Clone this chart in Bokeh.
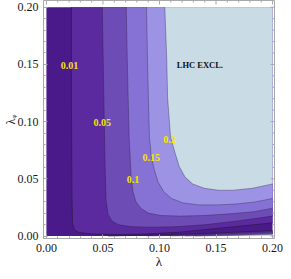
from bokeh.plotting import figure
from bokeh.models import Range1d, FixedTicker
from bokeh.embed import file_html
from bokeh.resources import INLINE
from bokeh.core.properties import value

# ---------------- data ----------------
lam_extent = [0.0, 0.2]        # lambda range of the scan
lamphi_extent = [0.0, 0.2]     # lambda_phi range of the scan

levels = [0.01, 0.05, 0.1, 0.15, 0.2]
level_labels = ["0.01", "0.05", "0.1", "0.15", "0.2"]

# upper branch of each contour (from top edge down and across to right edge)
c001_x = [0.0221, 0.0221, 0.0226, 0.0230, 0.0247, 0.0289, 0.0417, 0.0630, 0.0885, 0.1183, 0.1566, 0.2]
c001_y = [0.2, 0.1204, 0.0353, 0.0115, 0.0055, 0.0030, 0.0017, 0.0013, 0.0017, 0.0034, 0.0072, 0.0115]
c005_x = [0.0494, 0.0502, 0.0511, 0.0519, 0.0528, 0.0545, 0.0579, 0.0638, 0.0757, 0.0928, 0.1140, 0.1396, 0.1694, 0.2]
c005_y = [0.2, 0.1545, 0.1034, 0.0609, 0.0311, 0.0191, 0.0132, 0.0098, 0.0081, 0.0077, 0.0081, 0.0098, 0.0132, 0.0174]
c010_x = [0.0706, 0.0715, 0.0723, 0.0732, 0.0749, 0.0766, 0.0791, 0.0834, 0.0902, 0.1013, 0.1183, 0.1396, 0.1651, 0.1838, 0.2]
c010_y = [0.2, 0.1545, 0.1204, 0.0864, 0.0523, 0.0387, 0.0302, 0.0243, 0.0200, 0.0179, 0.0174, 0.0179, 0.0196, 0.0213, 0.0243]
c015_x = [0.0885, 0.0894, 0.0902, 0.0911, 0.0928, 0.0953, 0.0987, 0.1038, 0.1106, 0.1209, 0.1353, 0.1523, 0.1694, 0.1847, 0.2]
c015_y = [0.2, 0.1545, 0.1204, 0.0864, 0.0694, 0.0583, 0.0472, 0.0387, 0.0328, 0.0289, 0.0272, 0.0272, 0.0281, 0.0298, 0.0328]
c020_x = [0.1047, 0.1064, 0.1072, 0.1098, 0.1140, 0.1174, 0.1226, 0.1294, 0.1396, 0.1523, 0.1651, 0.1821, 0.2]
c020_y = [0.2, 0.1545, 0.1204, 0.0864, 0.0719, 0.0609, 0.0515, 0.0455, 0.0417, 0.0400, 0.0400, 0.0417, 0.0455]

# lower branch (values rise again as lambda_phi -> 0 at large lambda)
r001_x = [0.0545, 0.0970, 0.1481, 0.2]
r001_y = [0.0, 0.00085, 0.00255, 0.00468]
r005_x = [0.0885, 0.1396, 0.2]
r005_y = [0.0, 0.00128, 0.0034]
r010_x = [0.1098, 0.1566, 0.2]
r010_y = [0.0, 0.00102, 0.00255]
r015_x = [0.1226, 0.1651, 0.2]
r015_y = [0.0, 0.00085, 0.00196]
r020_x = [0.1311, 0.1694, 0.2]
r020_y = [0.0, 0.0006, 0.00145]

upper_x = [c001_x, c005_x, c010_x, c015_x, c020_x]
upper_y = [c001_y, c005_y, c010_y, c015_y, c020_y]
lower_x = [r001_x, r005_x, r010_x, r015_x, r020_x]
lower_y = [r001_y, r005_y, r010_y, r015_y, r020_y]

# contour label positions
label_x = [0.0204, 0.0494, 0.0766, 0.0928, 0.1089]
label_y = [0.1494, 0.0991, 0.0498, 0.0688, 0.0847]

excl_text = "LHC EXCL."
excl_x = [0.1357]
excl_y = [0.1494]

ticks = [0.0, 0.05, 0.1, 0.15, 0.2]
tick_labels = ["0.00", "0.05", "0.10", "0.15", "0.20"]
minor_ticks = [0.01, 0.02, 0.03, 0.04, 0.06, 0.07, 0.08, 0.09, 0.11, 0.12,
               0.13, 0.14, 0.16, 0.17, 0.18, 0.19]

x_title = "λ"
y_title = "λᵩ"

# ---------------- styles ----------------
region_colors = ["#4a1a8b", "#5b2a9f", "#6d4cb6", "#8672d4", "#9d93e4", "#c9dbe4"]
line_alphas = [0.85, 0.5, 0.45, 0.45, 0.45]
frame_color = "#a8a8a8"
serif = "Liberation Serif"
x0, x1 = -0.002586, 0.201724
y0, y1 = -0.002185, 0.205857
major_len_x, major_len_y = 0.00345, 0.0035
minor_len_x, minor_len_y = 0.0017, 0.00175

p = figure(width=283, height=271,
           x_range=Range1d(x0, x1), y_range=Range1d(y0, y1),
           output_backend="svg", toolbar_location=None,
           min_border_left=37, min_border_right=9, min_border_top=0, min_border_bottom=33)
p.background_fill_color = "white"
p.border_fill_color = "white"
p.outline_line_color = frame_color
p.xgrid.visible = False
p.ygrid.visible = False

# base region (below the lowest level)
p.quad(left=[lam_extent[0]], right=[lam_extent[1]], bottom=[lamphi_extent[0]], top=[lamphi_extent[1]],
       fill_color=region_colors[0], line_color=None)
for i in range(len(levels)):
    p.patch(upper_x[i] + [lam_extent[1]], upper_y[i] + [lamphi_extent[1]],
            fill_color=region_colors[i + 1], line_color=None)
for i in range(len(levels)):
    p.patch(lower_x[i] + [lam_extent[1]], lower_y[i] + [lamphi_extent[0]],
            fill_color=region_colors[i + 1], line_color=None)
for i in range(len(levels)):
    p.line(upper_x[i], upper_y[i], line_color="#2a1a40", line_alpha=line_alphas[i], line_width=0.8)
    p.line(lower_x[i], lower_y[i], line_color="#2a1a40", line_alpha=line_alphas[i], line_width=0.8)

p.text(x=label_x, y=label_y, text=level_labels, text_color="#f4e600",
       text_font=value(serif), text_font_style="bold", text_font_size="10px",
       text_align="center", text_baseline="middle")
p.text(x=excl_x, y=excl_y, text=[excl_text], text_color="#111111",
       text_font=value(serif), text_font_style="bold", text_font_size="8.5px",
       text_align="center", text_baseline="middle")

# mirrored inward ticks on the top and right frame edges
p.segment(x0=ticks, y0=[y1] * len(ticks), x1=ticks, y1=[y1 - major_len_y] * len(ticks),
          line_color=frame_color, line_width=1)
p.segment(x0=minor_ticks, y0=[y1] * len(minor_ticks), x1=minor_ticks,
          y1=[y1 - minor_len_y] * len(minor_ticks), line_color=frame_color, line_width=1)
p.segment(x0=[x1] * len(ticks), y0=ticks, x1=[x1 - major_len_x] * len(ticks), y1=ticks,
          line_color=frame_color, line_width=1)
p.segment(x0=[x1] * len(minor_ticks), y0=minor_ticks, x1=[x1 - minor_len_x] * len(minor_ticks),
          y1=minor_ticks, line_color=frame_color, line_width=1)

ticker = FixedTicker(ticks=ticks, minor_ticks=minor_ticks)
overrides = {t: s for t, s in zip(ticks, tick_labels)}
for ax in (p.xaxis[0], p.yaxis[0]):
    ax.ticker = ticker
    ax.axis_line_color = frame_color
    ax.major_tick_line_color = frame_color
    ax.minor_tick_line_color = frame_color
    ax.major_tick_in = 4
    ax.major_tick_out = 0
    ax.minor_tick_in = 2
    ax.minor_tick_out = 0
    ax.major_label_overrides = overrides
    ax.major_label_text_font = serif
    ax.major_label_text_font_size = "12px"
    ax.major_label_text_color = "#1a1a1a"
    ax.major_label_standoff = 5
    ax.axis_label_text_font = serif
    ax.axis_label_text_font_style = "normal"
    ax.axis_label_text_color = "#1a1a1a"

p.xaxis[0].axis_label = x_title
p.xaxis[0].axis_label_text_font_size = "13px"
p.xaxis[0].axis_label_standoff = -1
p.yaxis[0].axis_label = y_title
p.yaxis[0].axis_label_text_font_size = "12px"
p.yaxis[0].axis_label_standoff = -3

open("out.html", "w").write(file_html(p, INLINE))
